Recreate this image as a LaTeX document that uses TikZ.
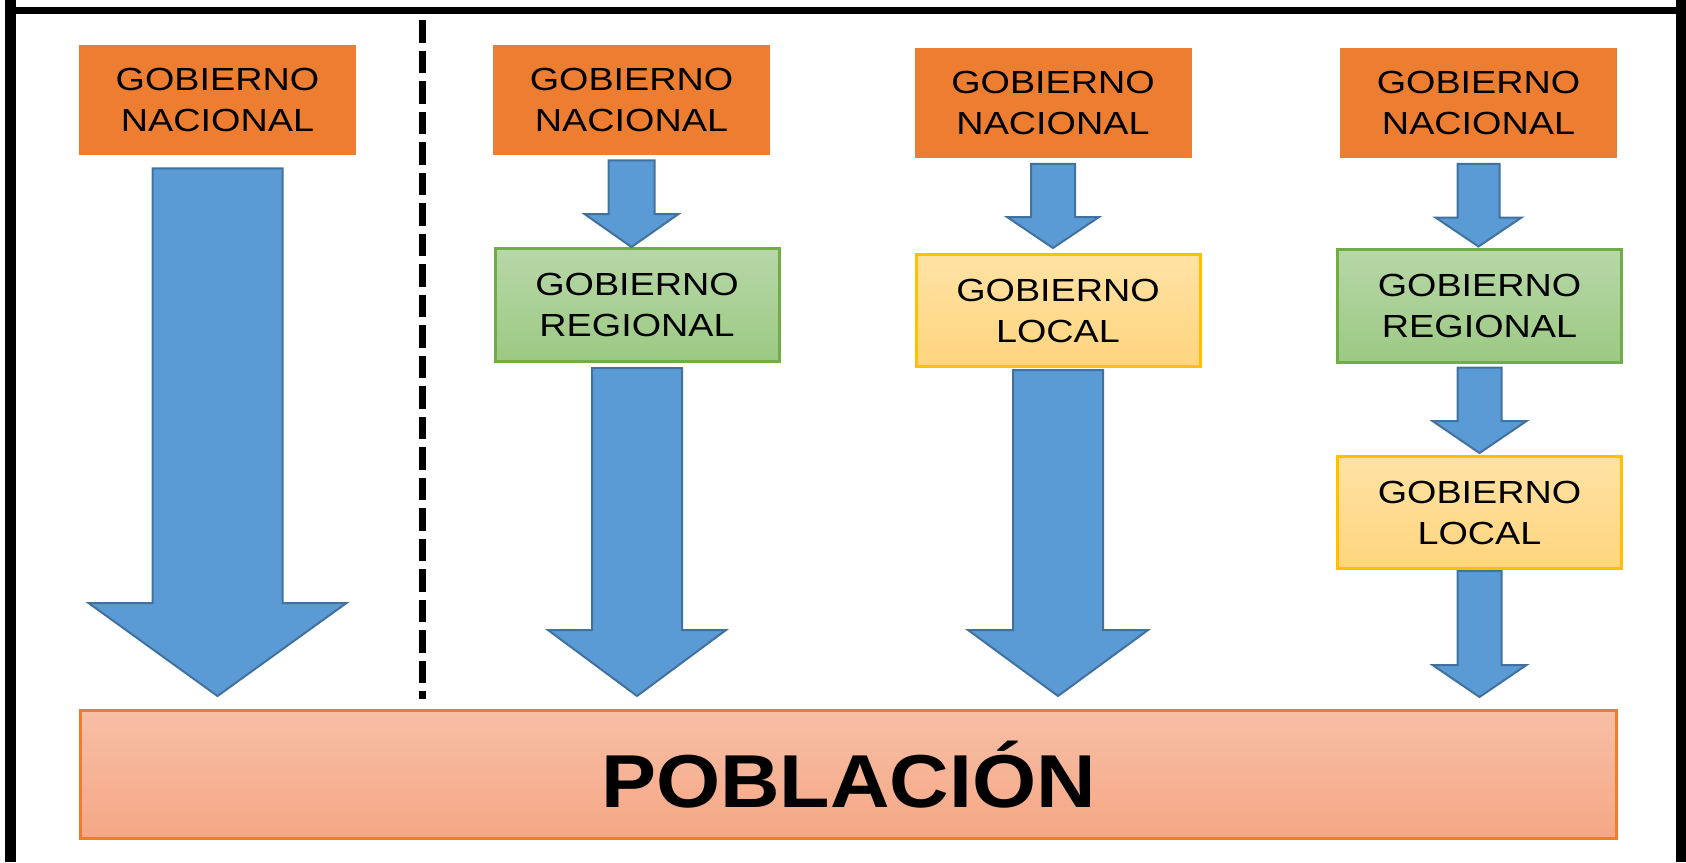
\documentclass[tikz,border=0pt]{standalone}
\usepackage{fontspec}
\usetikzlibrary{calc}

\newfontfamily\letragob{Liberation Sans}[FakeStretch=1.18]
\newfontfamily\letrapob{Liberation Sans}[FakeStretch=1.1]

\definecolor{naranja}{HTML}{ED7D31}
\definecolor{verdeborde}{HTML}{70AD47}
\definecolor{verdearriba}{HTML}{B7D7A8}
\definecolor{verdeabajo}{HTML}{9CC983}
\definecolor{amarilloborde}{HTML}{FFC000}
\definecolor{amarilloarriba}{HTML}{FFE2A4}
\definecolor{amarilloabajo}{HTML}{FFD57E}
\definecolor{pobarriba}{HTML}{F7BFA6}
\definecolor{pobabajo}{HTML}{F5A784}
\definecolor{azul}{HTML}{5B9BD5}
\definecolor{azulborde}{HTML}{41719C}

\tikzset{
  gob/.style={align=center, text=black, font=\letragob\fontsize{16}{20.5}\selectfont},
  nacional/.style={gob, fill=naranja, minimum width=138.5pt, minimum height=55pt},
  regional/.style={gob, draw=verdeborde, line width=1.5pt, top color=verdearriba,
    bottom color=verdeabajo, minimum width=142pt, minimum height=56.5pt},
  local/.style={gob, draw=amarilloborde, line width=1.5pt, top color=amarilloarriba,
    bottom color=amarilloabajo, minimum width=142pt, minimum height=56pt},
  poblacion/.style={draw=naranja, line width=1.5pt, top color=pobarriba,
    bottom color=pobabajo, minimum width=768pt, minimum height=64pt,
    font=\letrapob\bfseries\fontsize{37.5}{40}\selectfont},
  flecha/.style={fill=azul, draw=azulborde, line width=1pt, line join=miter}
}

% desde, hasta, hueco arriba, media caña, media punta, largo punta, hueco abajo
\newcommand{\flecha}[7]{%
  \draw[flecha] ($(#1.south)+(-#4,#3)$) -- ($(#1.south)+(#4,#3)$)
    -- ($(#1.south |- #2.north)+(#4,{-#6-#7})$)
    -- ($(#1.south |- #2.north)+(#5,{-#6-#7})$)
    -- ($(#1.south |- #2.north)+(0,-#7)$)
    -- ($(#1.south |- #2.north)+(-#5,{-#6-#7})$)
    -- ($(#1.south |- #2.north)+(-#4,{-#6-#7})$) -- cycle;}

\begin{document}
\begin{tikzpicture}[x=0.5pt, y=-0.5pt]
  \useasboundingbox (0,0) rectangle (1686,862);
  % Marco y separador
  \draw[line width=5.5pt] (10.5,0) -- (10.5,862) (1681.5,0) -- (1681.5,862);
  \draw[line width=3.5pt] (5,10.5) -- (1686,10.5);
  \draw[line width=3.5pt, dash pattern=on 11.25pt off 4pt] (422.5,20) -- (422.5,699);
  % Cajas
  \node[nacional] (nac1) at (217.5,100) {GOBIERNO\\NACIONAL};
  \node[nacional] (nac2) at (631.5,100) {GOBIERNO\\NACIONAL};
  \node[regional] (reg2) at (637,305) {GOBIERNO\\REGIONAL};
  \node[nacional] (nac3) at (1053,102.5) {GOBIERNO\\NACIONAL};
  \node[local] (loc3) at (1058,310.5) {GOBIERNO\\LOCAL};
  \node[nacional] (nac4) at (1478.5,102.5) {GOBIERNO\\NACIONAL};
  \node[regional] (reg4) at (1479.5,305.5) {GOBIERNO\\REGIONAL};
  \node[local] (loc4) at (1479.5,512.5) {GOBIERNO\\LOCAL};
  \node[poblacion] (pob) at (848.5,774.5) {POBLACIÓN};
  % Flechas
  \flecha{nac1}{pob}{13}{65}{129}{93}{13}
  \flecha{nac2}{reg2}{5}{23}{47}{33}{0}
  \flecha{reg2}{pob}{5}{45}{89}{66}{13}
  \flecha{nac3}{loc3}{6}{22}{46}{31}{5}
  \flecha{loc3}{pob}{2}{45}{90}{66}{13}
  \flecha{nac4}{reg4}{6}{21}{43}{29}{1}
  \flecha{reg4}{loc4}{4}{22}{47}{32}{2}
  \flecha{loc4}{pob}{1}{22}{47}{32}{12}
\end{tikzpicture}
\end{document}
